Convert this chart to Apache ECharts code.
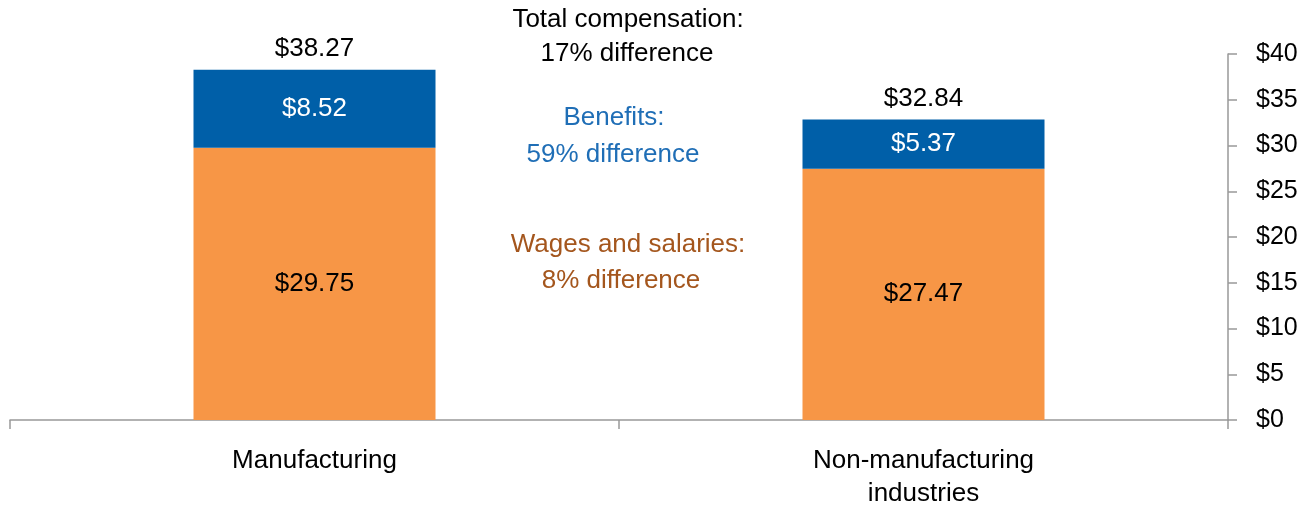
<!DOCTYPE html>
<html>
<head>
    <meta charset="UTF-8">
    <script src="https://cdn.jsdelivr.net/npm/echarts@6/dist/echarts.min.js"></script>
</head>
<body style="margin:0">
<div id="chart" style="width:1312px;height:510px"></div>
<script>
    // data
    var categories = ['Manufacturing', 'Non-manufacturing\nindustries'];
    var wages = [29.75, 27.47];
    var benefits = [8.52, 5.37];
    var totals = [38.27, 32.84];
    var yTicks = [0, 5, 10, 15, 20, 25, 30, 35, 40];

    var font = 'Liberation Sans';
    var money = function (p) { return '$' + p.value.toFixed(2); };

    // annotation lines: text, centre x, centre y, colour
    var notes = [
        ['Total compensation:', 628, 20, '#000'],
        ['17% difference', 627, 54, '#000'],
        ['Benefits:', 614, 118, '#1F6EB6'],
        ['59% difference', 613, 155, '#1F6EB6'],
        ['Wages and salaries:', 628, 245, '#A4561D'],
        ['8% difference', 621, 281, '#A4561D']
    ];

    var myChart = echarts.init(document.getElementById('chart'));
    var option = {
        animation: false,
        grid: { left: 10, right: 84, top: 54, bottom: 89 },
        xAxis: {
            type: 'category',
            data: categories,
            axisLine: { lineStyle: { color: '#999', width: 1.5 } },
            axisTick: { show: true, length: 9, lineStyle: { color: '#999', width: 1.5 } },
            axisLabel: { color: '#000', fontFamily: font, fontSize: 26, margin: 24, lineHeight: 33 }
        },
        yAxis: {
            type: 'value',
            position: 'right',
            min: yTicks[0],
            max: yTicks[yTicks.length - 1],
            interval: 5,
            splitLine: { show: false },
            axisLine: { show: true, lineStyle: { color: '#999', width: 1.5 } },
            axisTick: { show: true, length: 9, lineStyle: { color: '#999', width: 1.5 } },
            axisLabel: { color: '#000', fontFamily: font, fontSize: 25, margin: 28, formatter: '${value}' }
        },
        series: [
            {
                name: 'Wages and salaries',
                type: 'bar',
                stack: 'comp',
                barWidth: 242,
                data: wages,
                itemStyle: { color: '#F79646' },
                label: { show: true, position: 'inside', color: '#000', fontFamily: font, fontSize: 26, formatter: money }
            },
            {
                name: 'Benefits',
                type: 'bar',
                stack: 'comp',
                barWidth: 242,
                data: benefits,
                itemStyle: { color: '#005FA8' },
                label: { show: true, position: 'inside', color: '#fff', fontFamily: font, fontSize: 26, formatter: money }
            },
            {
                name: 'Total',
                type: 'scatter',
                symbolSize: 0,
                data: totals,
                itemStyle: { opacity: 1 },
                label: { show: true, position: 'top', distance: 8, color: '#000', opacity: 1, fontFamily: font, fontSize: 26, formatter: money }
            }
        ],
        graphic: notes.map(function (n) {
            return {
                type: 'text',
                x: n[1],
                y: n[2],
                style: { text: n[0], fill: n[3], font: '26px ' + font, align: 'center', verticalAlign: 'middle' }
            };
        })
    };
    myChart.setOption(option);
</script>
</body>
</html>
